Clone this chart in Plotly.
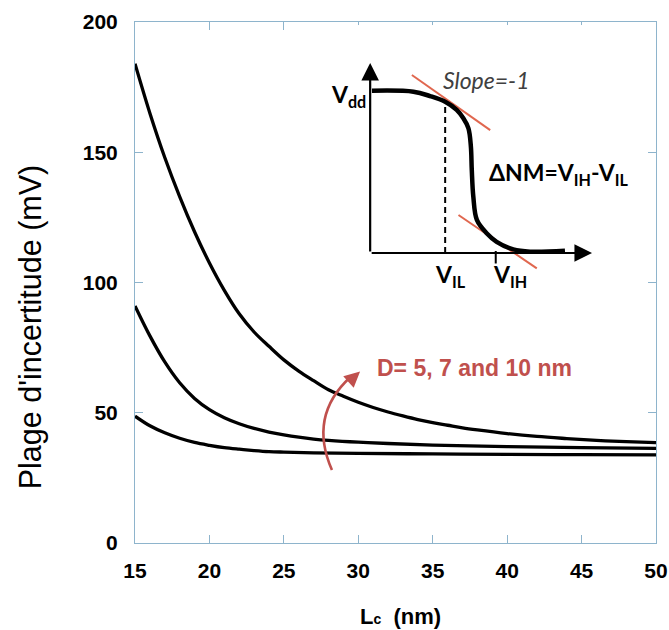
import plotly.graph_objects as go

# ---------------- data ----------------
lc_top = [15, 16, 17, 18, 19, 20, 21, 22, 23, 24, 25, 26, 27, 28, 29, 30, 31, 32, 33, 34, 35, 36, 37, 38, 40, 42, 44, 46, 48, 50]
range_top = [184, 165, 148, 133, 119.5, 107.5, 97, 88, 81, 75.5, 70.3, 66, 62.3, 58.8, 56.3, 54, 52, 50.3, 48.8, 47.4, 46.2, 45.2, 44.2, 43.4, 42.0, 40.9, 40.1, 39.4, 38.9, 38.5]

lc_mid = [15, 16, 17, 18, 19, 20, 21, 22, 23, 24, 25, 26, 27, 28, 30, 32, 35, 40, 45, 50]
range_mid = [91, 79.5, 69.5, 61.5, 55.5, 51.2, 48.1, 45.8, 44.0, 42.6, 41.5, 40.6, 39.9, 39.4, 38.7, 38.2, 37.6, 37.0, 36.6, 36.3]

lc_low = [15, 16, 17, 18, 19, 20, 21, 22, 23, 24, 25, 27, 30, 35, 40, 45, 50]
range_low = [48.7, 45, 42.3, 40.2, 38.6, 37.5, 36.6, 36, 35.5, 35.1, 34.9, 34.6, 34.4, 34.2, 34.0, 33.9, 33.8]

x_ticks = [15, 20, 25, 30, 35, 40, 45, 50]
y_ticks = [0, 50, 100, 150, 200]

# inset schematic (transfer curve), in inset units 0..10
inset_u = [0.08, 1.95, 2.70, 3.38, 3.90, 4.20, 4.43, 4.54, 4.58, 4.65, 4.81, 5.25, 5.70, 6.45, 7.21, 8.78]
inset_v = [8.54, 8.49, 8.26, 7.96, 7.53, 7.09, 6.56, 5.59, 4.37, 2.96, 1.74, 1.04, 0.59, 0.19, 0.07, 0.12]
v_il = 3.38
v_il_level = 7.96
v_ih = 5.66
tangent_hi_u = [1.88, 5.41]
tangent_hi_v = [9.37, 6.47]
tangent_lo_u = [3.98, 7.51]
tangent_lo_v = [2.0, -0.81]

AX_COL = "#8eb4cc"
RED = "#c0504d"
TAN = "#e0674f"
MAIN_FONT = "Liberation Sans, Arial, sans-serif"
INSET_FONT = "Lato, Carlito, sans-serif"

fig = go.Figure()

for xs, ys in [(lc_top, range_top), (lc_mid, range_mid), (lc_low, range_low)]:
    fig.add_trace(go.Scatter(x=xs, y=ys, mode="lines",
                             line=dict(color="black", width=3.3, shape="spline"),
                             showlegend=False, hoverinfo="skip"))

# inset traces
fig.add_trace(go.Scatter(x=tangent_hi_u, y=tangent_hi_v, xaxis="x2", yaxis="y2", mode="lines",
                         line=dict(color=TAN, width=2), showlegend=False, hoverinfo="skip"))
fig.add_trace(go.Scatter(x=tangent_lo_u, y=tangent_lo_v, xaxis="x2", yaxis="y2", mode="lines",
                         line=dict(color=TAN, width=2), showlegend=False, hoverinfo="skip"))
fig.add_trace(go.Scatter(x=[v_il, v_il], y=[0, v_il_level], xaxis="x2", yaxis="y2", mode="lines",
                         line=dict(color="black", width=2, dash="6px,4px"), showlegend=False, hoverinfo="skip"))
fig.add_trace(go.Scatter(x=[v_ih, v_ih], y=[0.1, -0.55], xaxis="x2", yaxis="y2", mode="lines",
                         line=dict(color="black", width=2), showlegend=False, hoverinfo="skip"))
fig.add_trace(go.Scatter(x=inset_u, y=inset_v, xaxis="x2", yaxis="y2", mode="lines",
                         line=dict(color="black", width=4.5, shape="spline"), showlegend=False, hoverinfo="skip"))

axis_common = dict(showgrid=False, zeroline=False, showline=True, linecolor=AX_COL, linewidth=1,
                   mirror="ticks", ticks="inside", ticklen=8, tickwidth=1, tickcolor=AX_COL,
                   automargin=False,
                   tickfont=dict(family=MAIN_FONT, size=21, color="black", weight="bold"))

fig.update_layout(
    width=669, height=630, autosize=False,
    margin=dict(l=135, r=13, t=22, b=87),
    paper_bgcolor="white", plot_bgcolor="white",
    xaxis=dict(range=[15, 50], tickvals=x_ticks, ticklabelstandoff=9, **axis_common),
    yaxis=dict(range=[0, 200], tickvals=y_ticks, ticklabelstandoff=12, **axis_common),
    xaxis2=dict(domain=[0.3662, 0.9624], range=[-2, 12], visible=False, anchor="y2", automargin=False),
    yaxis2=dict(domain=[0.4837, 0.9942], range=[-2, 12], visible=False, anchor="x2", automargin=False),
)

annotations = []
# axis titles
annotations.append(dict(text="Plage d'incertitude (mV)", xref="paper", yref="paper", x=-0.199, y=0.4146,
                        textangle=-90, showarrow=False, xanchor="center", yanchor="middle",
                        font=dict(family=MAIN_FONT, size=30.5, color="black")))
annotations.append(dict(text="L<span style='font-size:14px'>c</span>&nbsp; (nm)", xref="paper", yref="paper",
                        x=0.51, y=-0.141, showarrow=False, xanchor="center", yanchor="middle",
                        font=dict(family=MAIN_FONT, size=22, color="black", weight="bold")))
# red label
annotations.append(dict(text="D= 5, 7 and 10 nm", xref="paper", yref="paper", x=0.461, y=0.336,
                        showarrow=False, xanchor="left", yanchor="middle",
                        font=dict(family=MAIN_FONT, size=23, color=RED, weight="bold")))
# red arrow head
annotations.append(dict(text="", xref="paper", yref="paper", x=0.432, y=0.329, ax=-10, ay=9,
                        showarrow=True, arrowhead=2, arrowsize=1.2, arrowwidth=2.6, arrowcolor=RED))
# inset axes arrows
for (xt, yt) in [(0, 10), (10, 0)]:
    annotations.append(dict(text="", xref="x2", yref="y2", axref="x2", ayref="y2", x=xt, y=yt, ax=0, ay=0,
                            showarrow=True, arrowhead=2, arrowsize=1.6, arrowwidth=2.2, arrowcolor="black"))
# inset labels
annotations.append(dict(text="Slope=-1", xref="x2", yref="y2", x=5.23, y=9.1, showarrow=False,
                        xanchor="center", yanchor="middle",
                        font=dict(family=INSET_FONT, size=23, color="#404040", style="italic")))
annotations.append(dict(text="V<sub>dd</sub>", xref="x2", yref="y2", x=-0.12, y=8.3, showarrow=False,
                        xanchor="right", yanchor="middle",
                        font=dict(family=INSET_FONT, size=23, color="black", weight="bold")))
annotations.append(dict(text="ΔNM=V<sub>IH</sub>-V<sub>IL</sub>", xref="x2", yref="y2", x=5.25, y=4.2,
                        showarrow=False, xanchor="left", yanchor="middle",
                        font=dict(family=INSET_FONT, size=23, color="black", weight="bold")))
annotations.append(dict(text="V<sub>IL</sub>", xref="x2", yref="y2", x=3.6, y=-1.2, showarrow=False,
                        xanchor="center", yanchor="middle",
                        font=dict(family=INSET_FONT, size=23, color="black", weight="bold")))
annotations.append(dict(text="V<sub>IH</sub>", xref="x2", yref="y2", x=6.3, y=-1.2, showarrow=False,
                        xanchor="center", yanchor="middle",
                        font=dict(family=INSET_FONT, size=23, color="black", weight="bold")))

fig.update_layout(annotations=annotations)

# red curved arrow body
fig.add_shape(type="path", xref="paper", yref="paper",
              path="M 0.378 0.140 Q 0.3325 0.2435 0.413 0.318",
              line=dict(color=RED, width=2.6))

fig.write_html("out.html",
               config={"responsive": False, "displayModeBar": False, "staticPlot": True},
               post_script="document.body.style.margin='0';document.body.style.overflow='hidden';")
